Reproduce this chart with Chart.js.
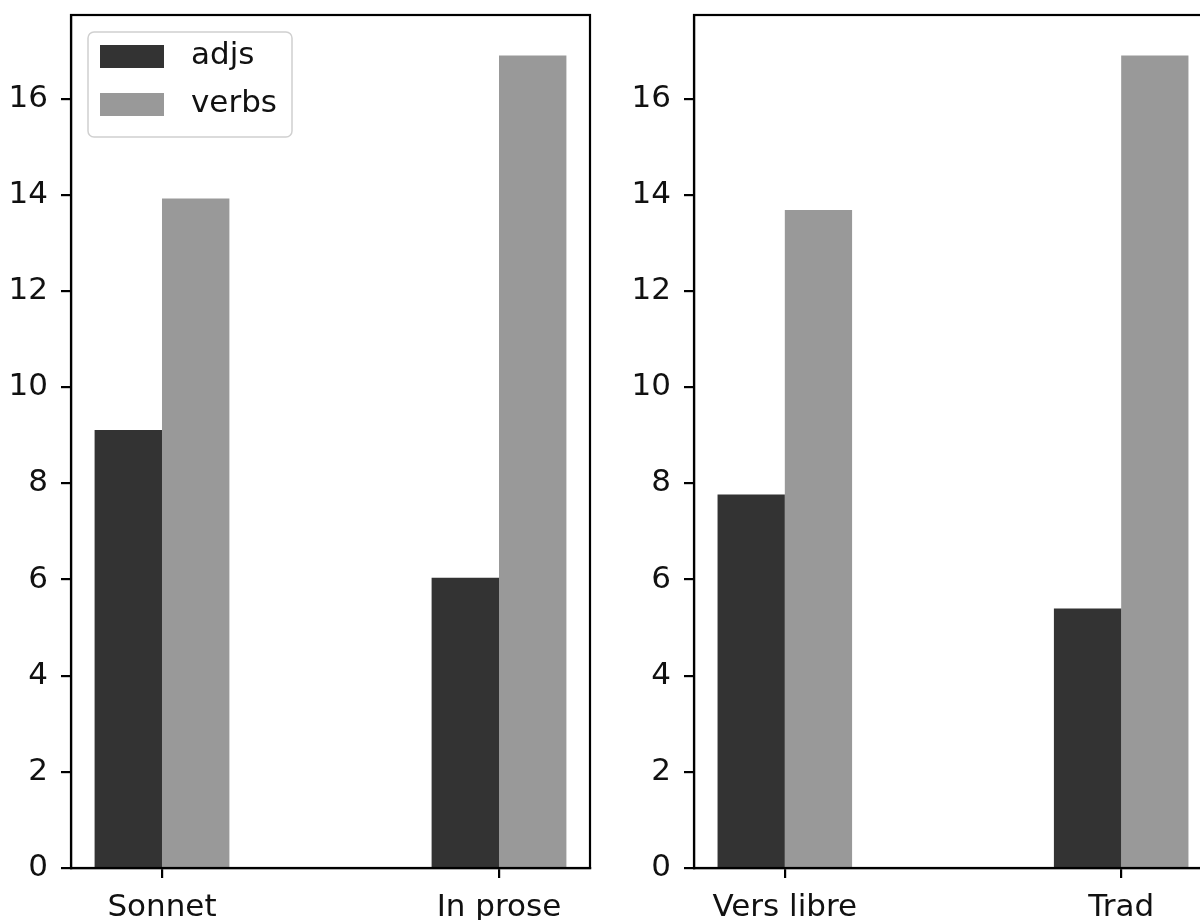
<!DOCTYPE html>
<html>
<head>
<meta charset="utf-8">
<script src="https://cdn.jsdelivr.net/npm/chart.js@4.4.1/dist/chart.umd.min.js"></script>
<style>
    html, body { margin: 0; padding: 0; background: #fff; overflow: hidden; }
    body { position: relative; width: 1200px; height: 920px; }
    #leftChart { position: absolute; left: 0; top: 0; }
    #rightChart { position: absolute; left: 600px; top: 0; }
</style>
</head>
<body>
<canvas id="leftChart" width="600" height="920"></canvas>
<canvas id="rightChart" width="640" height="920"></canvas>
<script>
// values
const leftCategories = ['Sonnet', 'In prose'];
const leftAdjs = [9.11, 6.04];
const leftVerbs = [13.93, 16.9];

const rightCategories = ['Vers libre', 'Trad'];
const rightAdjs = [7.77, 5.40];
const rightVerbs = [13.69, 16.9];

const seriesNames = ['adjs', 'verbs'];
const yTicks = [0, 2, 4, 6, 8, 10, 12, 14, 16];
const yMax = 17.745;

const dark = '#333333';
const light = '#999999';
const fontFamily = '"DejaVu Sans", sans-serif';
const fontSize = 31;

// matplotlib style box round the plot area
const framePlugin = {
    id: 'frame',
    afterDatasetsDraw(chart) {
        const area = chart.chartArea;
        const ctx = chart.ctx;
        ctx.save();
        ctx.strokeStyle = '#000';
        ctx.lineWidth = 2.2;
        ctx.strokeRect(area.left, area.top, area.right - area.left, area.bottom - area.top);
        ctx.restore();
    }
};

// legend box in the upper left corner, built from the datasets
const boxLegendPlugin = {
    id: 'boxLegend',
    afterDraw(chart, args, opts) {
        if (!opts.show) return;
        const area = chart.chartArea;
        const ctx = chart.ctx;
        const x = area.left + 17;
        const y = area.top + 17;
        const w = 204;
        const h = 105;
        ctx.save();
        ctx.fillStyle = 'rgba(255,255,255,0.8)';
        ctx.strokeStyle = '#d0d0d0';
        ctx.lineWidth = 1.5;
        ctx.beginPath();
        ctx.roundRect(x, y, w, h, 6);
        ctx.fill();
        ctx.stroke();

        ctx.font = fontSize + 'px ' + fontFamily;
        ctx.textBaseline = 'middle';
        chart.data.datasets.forEach((ds, i) => {
            const rowY = y + 24 + i * 48;
            ctx.fillStyle = ds.backgroundColor;
            ctx.fillRect(x + 12, rowY - 11, 64, 23);
            ctx.fillStyle = '#111';
            ctx.fillText(ds.label, x + 103, rowY);
        });
        ctx.restore();
    }
};

function buildData(categories, adjs, verbs) {
    return {
        datasets: [
            {
                label: seriesNames[0],
                data: categories.map((c, i) => ({ x: i, y: adjs[i] })),
                backgroundColor: dark,
                borderWidth: 0,
                barPercentage: 1,
                categoryPercentage: 0.4
            },
            {
                label: seriesNames[1],
                data: categories.map((c, i) => ({ x: i, y: verbs[i] })),
                backgroundColor: light,
                borderWidth: 0,
                barPercentage: 1,
                categoryPercentage: 0.4
            }
        ]
    };
}

function initBarChart(canvasID, categories, adjs, verbs, yAxisWidth, rightPadding, showLegend) {
    const ctx = document.getElementById(canvasID).getContext('2d');

    return new Chart(ctx, {
        type: 'bar',
        data: buildData(categories, adjs, verbs),
        plugins: [framePlugin, boxLegendPlugin],
        options: {
            responsive: false,
            animation: false,
            layout: {
                autoPadding: false,
                padding: { left: 0, right: rightPadding, top: 15, bottom: 0 }
            },
            plugins: {
                legend: { display: false },
                tooltip: { enabled: false },
                boxLegend: { show: showLegend }
            },
            scales: {
                x: {
                    type: 'linear',
                    min: -0.27,
                    max: 1.27,
                    offset: false,
                    afterBuildTicks: (scale) => {
                        scale.ticks = categories.map((c, i) => ({ value: i }));
                    },
                    afterFit: (scale) => {
                        scale.height = 52;
                        scale.paddingLeft = 0;
                        scale.paddingRight = 0;
                    },
                    ticks: {
                        autoSkip: false,
                        maxRotation: 0,
                        padding: 11,
                        color: '#111',
                        font: { family: fontFamily, size: fontSize },
                        callback: (value) => categories[value]
                    },
                    grid: {
                        display: true,
                        offset: false,
                        drawOnChartArea: false,
                        drawTicks: true,
                        tickLength: 10,
                        color: '#000',
                        lineWidth: 2.2
                    },
                    border: { display: true, color: '#000', width: 2.2 }
                },
                y: {
                    min: 0,
                    max: yMax,
                    afterBuildTicks: (scale) => {
                        scale.ticks = yTicks.map(v => ({ value: v }));
                    },
                    afterFit: (scale) => {
                        scale.width = yAxisWidth;
                        scale.paddingTop = 0;
                        scale.paddingBottom = 0;
                    },
                    ticks: {
                        padding: 13,
                        color: '#111',
                        font: { family: fontFamily, size: fontSize }
                    },
                    grid: {
                        display: true,
                        drawOnChartArea: false,
                        drawTicks: true,
                        tickLength: 10,
                        color: '#000',
                        lineWidth: 2.2
                    },
                    border: { display: true, color: '#000', width: 2.2 }
                }
            }
        }
    });
}

initBarChart('leftChart', leftCategories, leftAdjs, leftVerbs, 71, 10, true);
initBarChart('rightChart', rightCategories, rightAdjs, rightVerbs, 94, 28, false);
</script>
</body>
</html>
